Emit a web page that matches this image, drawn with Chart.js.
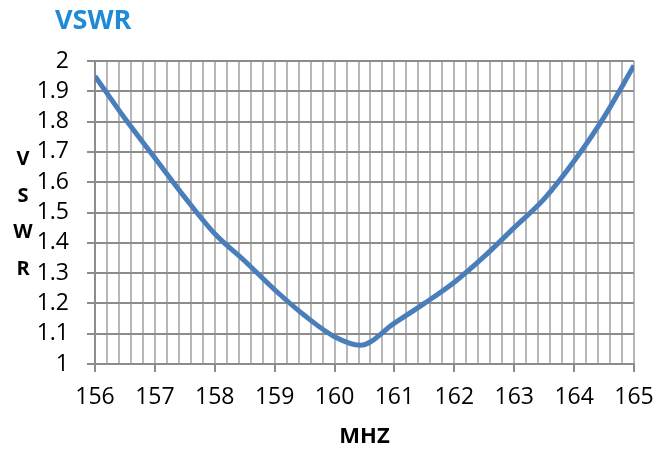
<!DOCTYPE html>
<html lang="en">
<head>
    <meta charset="UTF-8">
    <title>VSWR</title>
    <script src="https://cdn.jsdelivr.net/npm/chart.js"></script>
    <style>
        body { margin: 0; background: #ffffff; }
        canvas { display: block; }
    </style>
</head>
<body>
    <canvas id="chart" width="669" height="450"></canvas>

    <script>
        // values
        const freqs = [156, 156.5, 157, 157.5, 158, 158.5, 159, 159.5, 160, 160.43, 161, 161.5, 162, 162.5, 163, 163.5, 164, 164.5, 165];
        const vswr  = [1.95, 1.81, 1.68, 1.55, 1.43, 1.34, 1.245, 1.16, 1.09, 1.062, 1.135, 1.2, 1.27, 1.355, 1.45, 1.545, 1.67, 1.815, 1.985];
        const chartTitle = 'VSWR';
        const yTitleLetters = ['V', 'S', 'W', 'R'];

        const FONT = '"Open Sans", Arial, sans-serif';
        const isWhole = v => Math.abs(v - Math.round(v)) < 1e-6;

        // chart title (top left) and stacked y axis title (V S W R)
        const titles = {
            id: 'titles',
            afterDraw(chart) {
                const { ctx, chartArea } = chart;
                ctx.save();
                ctx.textBaseline = 'middle';

                ctx.font = 'bold 27px ' + FONT;
                ctx.fillStyle = '#1f8ad6';
                ctx.textAlign = 'left';
                ctx.fillText(chartTitle, 55, 21);

                ctx.font = 'bold 20px ' + FONT;
                ctx.fillStyle = '#000';
                ctx.textAlign = 'center';
                const mid = (chartArea.top + chartArea.bottom) / 2 + 2;
                yTitleLetters.forEach((ch, i) => {
                    ctx.fillText(ch, 23, mid + (i - 1.5) * 36.5);
                });
                ctx.restore();
            }
        };

        const ctx = document.getElementById('chart').getContext('2d');
        const chart = new Chart(ctx, {
            type: 'line',
            data: {
                datasets: [{
                    label: 'VSWR',
                    data: freqs.map((f, i) => ({ x: f, y: vswr[i] })),
                    borderColor: '#4a7ebb',
                    borderWidth: 5,
                    pointRadius: 0,
                    cubicInterpolationMode: 'monotone',
                    fill: false
                }]
            },
            options: {
                responsive: false,
                animation: false,
                layout: { padding: { left: 0, right: 35, top: 61, bottom: 0 } },
                plugins: {
                    legend: { display: false },
                    tooltip: { enabled: false },
                    title: { display: false }
                },
                scales: {
                    x: {
                        type: 'linear',
                        min: 156,
                        max: 165,
                        ticks: {
                            stepSize: 0.2,
                            autoSkip: false,
                            maxRotation: 0,
                            color: '#000',
                            padding: 12,
                            font: { family: FONT, size: 23 },
                            callback: v => isWhole(v) ? String(Math.round(v)) : ''
                        },
                        grid: {
                            color: '#b8b8b8',
                            lineWidth: 2,
                            tickLength: 8,
                            tickColor: c => isWhole(c.tick.value) ? '#8c8c8c' : 'rgba(0,0,0,0)'
                        },
                        border: { color: '#8c8c8c', width: 2 },
                        title: {
                            display: true,
                            text: 'MHZ',
                            color: '#000',
                            font: { family: FONT, size: 22, weight: 'bold' },
                            padding: { top: 0, bottom: 0 }
                        },
                        afterFit: s => { s.paddingLeft = 0; s.paddingRight = 0; }
                    },
                    y: {
                        min: 1,
                        max: 2,
                        ticks: {
                            stepSize: 0.1,
                            autoSkip: false,
                            color: '#000',
                            padding: 18,
                            font: { family: FONT, size: 23 },
                            callback: v => String(Number(v.toFixed(1)))
                        },
                        grid: {
                            color: '#8c8c8c',
                            lineWidth: 2,
                            tickLength: 8,
                            tickColor: '#8c8c8c'
                        },
                        border: { color: '#8c8c8c', width: 2 },
                        afterFit: s => { s.width = 95; s.paddingTop = 0; s.paddingBottom = 0; }
                    }
                }
            },
            plugins: [titles]
        });
    </script>
</body>
</html>
